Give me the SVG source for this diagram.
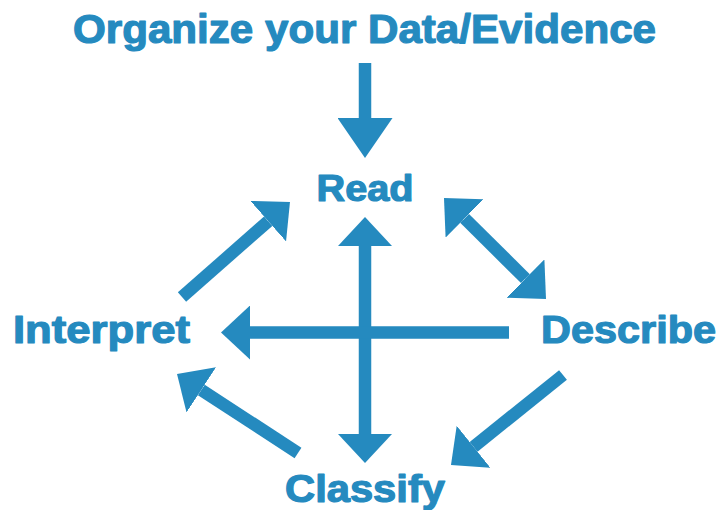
<svg xmlns="http://www.w3.org/2000/svg" width="720" height="510" viewBox="0 0 720 510">
<style>
.t{font-family:"Liberation Sans",Arial,sans-serif;font-weight:bold;fill:#258ABF;stroke:#258ABF;stroke-width:1.2;stroke-linejoin:round}
.c{fill:none;stroke:#258ABF;stroke-width:12.5;stroke-linecap:butt}
</style>
<defs>
<marker id="h" viewBox="0 0 29 54" refX="0" refY="27" markerWidth="29" markerHeight="54" markerUnits="userSpaceOnUse" orient="auto-start-reverse">
<path d="M0,0 L29,27 L0,54 z" fill="#258ABF"/>
</marker>
<marker id="hb" viewBox="0 0 40 55" refX="0" refY="27.5" markerWidth="40" markerHeight="55" markerUnits="userSpaceOnUse" orient="auto">
<path d="M0,0 L40,27.5 L0,55 z" fill="#258ABF"/>
</marker>
</defs>
<rect width="720" height="510" fill="#fff"/>
<g id="connectors">
<line class="c" x1="365" y1="63" x2="365" y2="118" marker-end="url(#hb)"/>
<line class="c" x1="365" y1="246" x2="365" y2="434" marker-start="url(#h)" marker-end="url(#h)"/>
<line class="c" x1="509" y1="332.5" x2="250" y2="332.5" marker-end="url(#h)"/>
<line class="c" x1="182" y1="297" x2="268.2" y2="221.2" marker-end="url(#h)"/>
<line class="c" x1="464.6" y1="218.4" x2="525.4" y2="278.6" marker-start="url(#h)" marker-end="url(#h)"/>
<line class="c" x1="563" y1="375" x2="473.6" y2="446.8" marker-end="url(#h)"/>
<line class="c" x1="298" y1="453" x2="201.3" y2="389.9" marker-end="url(#h)"/>
</g>
<g id="organize"><text class="t" x="364.5" y="43" font-size="40" text-anchor="middle" textLength="583" lengthAdjust="spacingAndGlyphs">Organize your Data/Evidence</text></g>
<g id="read"><text class="t" x="365" y="201" font-size="37" text-anchor="middle" textLength="97" lengthAdjust="spacingAndGlyphs">Read</text></g>
<g id="interpret"><text class="t" x="13" y="343" font-size="39" textLength="177" lengthAdjust="spacingAndGlyphs">Interpret</text></g>
<g id="describe"><text class="t" x="541" y="343" font-size="38" textLength="175" lengthAdjust="spacingAndGlyphs">Describe</text></g>
<g id="classify"><text class="t" x="285" y="502" font-size="38" textLength="160" lengthAdjust="spacingAndGlyphs">Classify</text></g>
</svg>
